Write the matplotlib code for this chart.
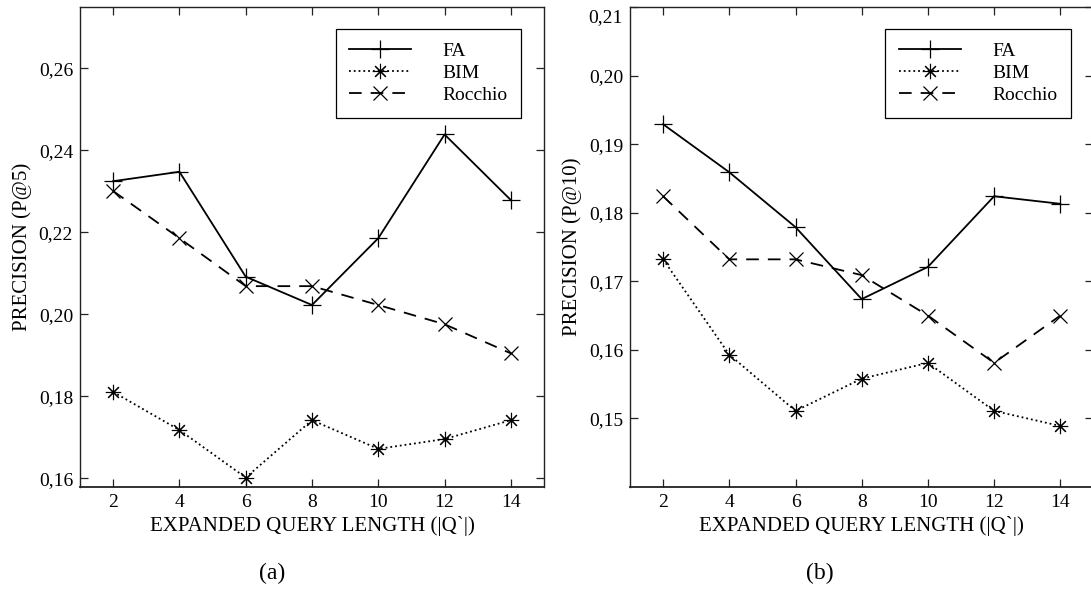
import matplotlib
matplotlib.use("Agg")
import matplotlib.pyplot as plt
from matplotlib.ticker import FuncFormatter
from matplotlib.transforms import ScaledTranslation

plt.rcParams['font.family'] = ['Liberation Serif', 'DejaVu Serif']

query_length = [2, 4, 6, 8, 10, 12, 14]
xticks = [2, 4, 6, 8, 10, 12, 14]

# (a) P@5
p5_fa = [0.2325, 0.2348, 0.2092, 0.2023, 0.2186, 0.2439, 0.2279]
p5_bim = [0.1811, 0.1718, 0.1602, 0.1742, 0.1672, 0.1696, 0.1742]
p5_rocchio = [0.2301, 0.2186, 0.2069, 0.2069, 0.2023, 0.1976, 0.1905]
p5_yticks = [0.16, 0.18, 0.20, 0.22, 0.24, 0.26]

# (b) P@10
p10_fa = [0.1929, 0.1859, 0.1779, 0.1674, 0.1721, 0.1824, 0.1813]
p10_bim = [0.1732, 0.1593, 0.1511, 0.1558, 0.1581, 0.1511, 0.1489]
p10_rocchio = [0.1824, 0.1732, 0.1732, 0.1709, 0.1650, 0.1581, 0.1650]
p10_yticks = [0.15, 0.16, 0.17, 0.18, 0.19, 0.20, 0.21]

fig = plt.figure(figsize=(10.91, 5.92), dpi=100)
W, H = 1091, 592
def rect(x0, x1, y0, y1):
    return [x0 / W, (H - y1) / H, (x1 - x0) / W, (y1 - y0) / H]

ax1 = fig.add_axes(rect(80, 544, 7, 487))
ax2 = fig.add_axes(rect(630, 1093.4, 7, 487))

comma = FuncFormatter(lambda v, p: f"{v:.2f}".replace('.', ','))
asterisk = (8, 2, 0)
FS = 15

def draw(ax, fa, bim, roc, yticks, ylim, ylabel, caption, cx):
    ax.plot(query_length, fa, color='black', lw=1.3, ls='-', marker='+',
            markersize=13, markeredgewidth=0.9, label='FA')
    ax.plot(query_length, bim, color='black', lw=1.3, ls=':', marker=asterisk,
            markersize=11, markeredgewidth=0.8, label='BIM')
    ax.plot(query_length, roc, color='black', lw=1.3, ls=(0, (7, 5)), marker='x',
            markersize=10.5, markeredgewidth=0.9, label='Rocchio')
    ax.set_xlim(1, 15)
    ax.set_ylim(*ylim)
    ax.set_xticks(xticks)
    ax.set_yticks(yticks)
    ax.yaxis.set_major_formatter(comma)
    ax.tick_params(direction='in', length=6, width=0.9, top=True, right=True,
                   labelsize=14, pad=5, colors='#222222', labelcolor='black')
    for s in ax.spines.values():
        s.set_color('#222222')
        s.set_linewidth(1.0)
    ax.spines['bottom'].set_linewidth(1.3)
    ax.set_xlabel('EXPANDED QUERY LENGTH (|Q`|)', fontsize=FS, labelpad=4)
    ax.set_ylabel(ylabel, fontsize=FS, labelpad=5)
    leg = ax.legend(loc='upper right', bbox_to_anchor=(0.951, 0.954),
                    borderaxespad=0, fancybox=False, framealpha=1,
                    edgecolor='black', fontsize=14, handlelength=3.2,
                    handletextpad=1.6, borderpad=0.7, labelspacing=0.22)
    leg.get_frame().set_linewidth(0.9)
    fig.text(cx / W, 1 - 573 / H, caption, ha='center', va='center', fontsize=17)

draw(ax1, p5_fa, p5_bim, p5_rocchio, p5_yticks, (0.1579, 0.275),
     'PRECISION (P@5)', '(a)', 272)
draw(ax2, p10_fa, p10_bim, p10_rocchio, p10_yticks, (0.14, 0.21),
     'PRECISION (P@10)', '(b)', 820)

# top label of panel (b) sits slightly below the top edge, as in the reference
fig.canvas.draw()
for lbl in ax2.get_yticklabels():
    if lbl.get_text() == '0,21':
        lbl.set_transform(lbl.get_transform() +
                          ScaledTranslation(0, -9 / 100, fig.dpi_scale_trans))

fig.savefig('out.png', dpi=100)
